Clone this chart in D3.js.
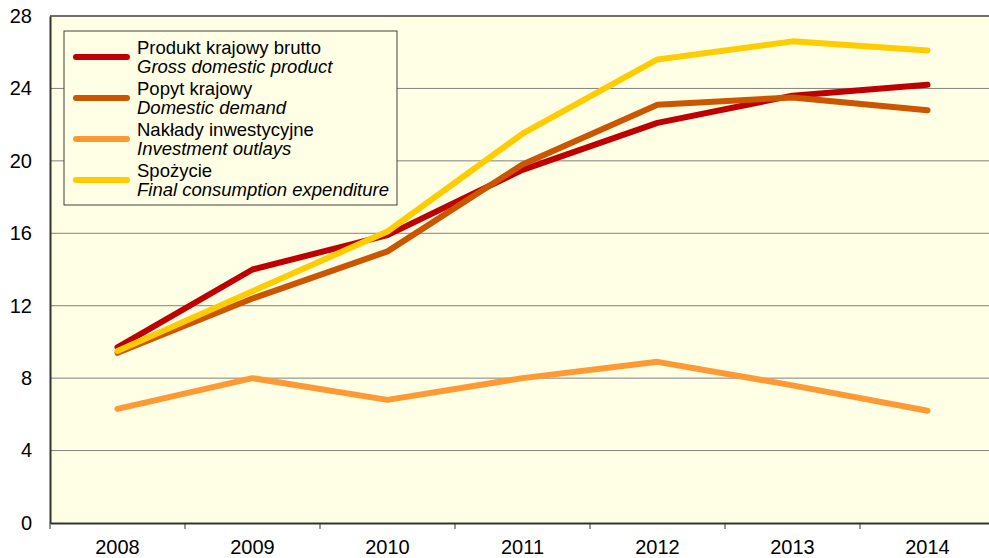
<!DOCTYPE html>
<html>
<head>
<meta charset="utf-8">
<script src="https://cdn.jsdelivr.net/npm/d3@7"></script>
<style>
  body { margin: 0; background: #fff; }
  text { font-family: "Liberation Sans", Arial, sans-serif; fill: #000; }
</style>
</head>
<body>
<div id="chart"></div>
<script>
"use strict";

var years = ["2008", "2009", "2010", "2011", "2012", "2013", "2014"];
var yTicks = [0, 4, 8, 12, 16, 20, 24, 28];

var gdp = [9.7, 14.0, 15.9, 19.5, 22.1, 23.6, 24.2];
var demand = [9.4, 12.4, 15.0, 19.8, 23.1, 23.5, 22.8];
var investment = [6.3, 8.0, 6.8, 8.0, 8.9, 7.6, 6.2];
var consumption = [9.5, 12.8, 16.1, 21.5, 25.6, 26.6, 26.1];

var seriesNames = [
    ["Produkt krajowy brutto", "Gross domestic product"],
    ["Popyt krajowy", "Domestic demand"],
    ["Nakłady inwestycyjne", "Investment outlays"],
    ["Spożycie", "Final consumption expenditure"]
];
var seriesColors = ["#C00000", "#CC5500", "#FF9933", "#FFCC00"];
var seriesData = [gdp, demand, investment, consumption];

var width = 989, height = 558;
var margin = {top: 16, right: -6, bottom: 35, left: 50};
var innerW = width - margin.left - margin.right;
var innerH = height - margin.top - margin.bottom;

var svg = d3.select('#chart').append('svg')
    .attr('width', width)
    .attr('height', height);

var g = svg.append('g')
    .attr('transform', 'translate(' + margin.left + ',' + margin.top + ')');

var x = d3.scaleBand().domain(years).range([0, innerW]);
var y = d3.scaleLinear().domain([0, 28]).range([innerH, 0]);

// plot background
g.append('rect')
    .attr('width', innerW)
    .attr('height', innerH)
    .attr('fill', '#FFFFE5');

// gridlines
g.selectAll('line.grid')
    .data(yTicks.slice(1, -1))
    .enter().append('line')
    .attr('class', 'grid')
    .attr('x1', 0).attr('x2', innerW)
    .attr('y1', function (d) { return y(d); })
    .attr('y2', function (d) { return y(d); })
    .attr('stroke', '#808080')
    .attr('stroke-width', 1);

// top border
g.append('line').attr('x1', 0).attr('x2', innerW).attr('y1', 0).attr('y2', 0)
    .attr('stroke', '#404040').attr('stroke-width', 1.5);

// y axis
var yAxis = g.append('g')
    .call(d3.axisLeft(y).tickValues(yTicks).tickSize(0).tickPadding(18));
yAxis.select('.domain').attr('stroke', '#333').attr('stroke-width', 2);
yAxis.selectAll('text').style('font-size', '20px').attr('fill', '#000');

// x axis
var xAxis = g.append('g')
    .attr('transform', 'translate(0,' + innerH + ')')
    .call(d3.axisBottom(x).tickSize(0).tickPadding(17));
xAxis.select('.domain').attr('stroke', '#333').attr('stroke-width', 2);
xAxis.selectAll('text').style('font-size', '20px').attr('fill', '#000');

// tick marks at band boundaries
g.selectAll('line.xtick')
    .data(years)
    .enter().append('line')
    .attr('class', 'xtick')
    .attr('x1', function (d) { return x(d); })
    .attr('x2', function (d) { return x(d); })
    .attr('y1', innerH).attr('y2', innerH + 6)
    .attr('stroke', '#333');

var line = d3.line()
    .x(function (d, i) { return x(years[i]) + x.bandwidth() / 2; })
    .y(function (d) { return y(d); });

seriesData.forEach(function (vals, i) {
    g.append('path')
        .datum(vals)
        .attr('d', line)
        .attr('fill', 'none')
        .attr('stroke', seriesColors[i])
        .attr('stroke-width', 6)
        .attr('stroke-linecap', 'round')
        .attr('stroke-linejoin', 'round');
});

// legend
var legend = svg.append('g').attr('transform', 'translate(64,31)');
legend.append('rect')
    .attr('width', 333)
    .attr('height', 174)
    .attr('fill', '#FFFFE5')
    .attr('stroke', '#404040')
    .attr('stroke-width', 1);

seriesNames.forEach(function (names, i) {
    var row = legend.append('g').attr('transform', 'translate(0,' + (i * 41) + ')');
    row.append('line')
        .attr('x1', 12).attr('x2', 63)
        .attr('y1', 26).attr('y2', 26)
        .attr('stroke', seriesColors[i])
        .attr('stroke-width', 6)
        .attr('stroke-linecap', 'round');
    row.append('text')
        .attr('x', 73).attr('y', 23)
        .style('font-size', '18.5px')
        .text(names[0]);
    row.append('text')
        .attr('x', 73).attr('y', 42)
        .style('font-size', '18.5px')
        .style('font-style', 'italic')
        .text(names[1]);
});
</script>
</body>
</html>
